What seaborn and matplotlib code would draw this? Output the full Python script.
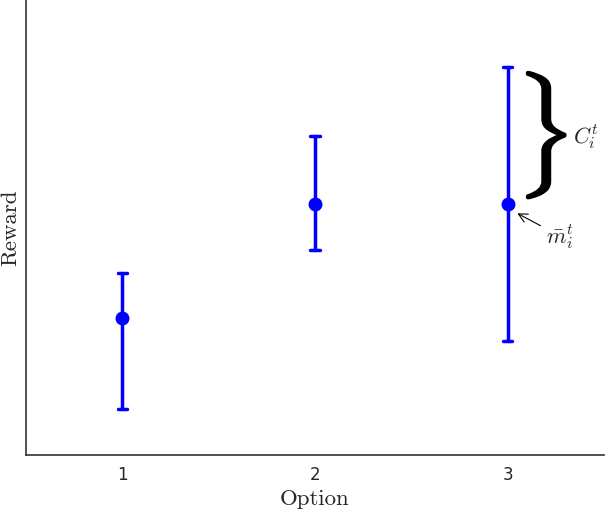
import numpy as np
import pandas as pd
import matplotlib
matplotlib.use('Agg')
import matplotlib.pyplot as plt
import seaborn as sns
from matplotlib.textpath import TextPath
from matplotlib.patches import PathPatch
from matplotlib.transforms import Affine2D

# Data (arbitrary reward units, axis spans 0..1)
options = [1, 2, 3]
means = [0.30, 0.55, 0.55]
lowers = [0.10, 0.45, 0.25]
uppers = [0.40, 0.70, 0.85]

# long format: median of (lower, mean, upper) gives the mean, min/max give the bar
df = pd.DataFrame({
    'Option': np.repeat(options, 3),
    'Reward': np.ravel(np.column_stack([lowers, means, uppers])),
})

sns.set_style('white')
plt.rcParams['mathtext.fontset'] = 'cm'

fig = plt.figure(figsize=(6.06, 5.10), dpi=100)
ax = fig.add_axes([26 / 606, 54 / 510, 578 / 606, 456 / 510])

sns.pointplot(data=df, x='Option', y='Reward', native_scale=True,
              estimator='median', errorbar=lambda v: (v.min(), v.max()),
              linestyle='none', color='#0000ff', marker='o', markersize=8,
              capsize=0.05, err_kws={'linewidth': 2.5}, ax=ax)

ax.set_xlim(0.5, 3.5)
ax.set_ylim(0, 1)
ax.set_xticks(options)
ax.set_xticklabels([str(o) for o in options], fontsize=12)
ax.set_yticks([])
ax.tick_params(axis='x', direction='in', length=5, width=0.6, color='#555555', pad=7)
for s in ['top', 'right']:
    ax.spines[s].set_visible(False)
for s in ['left', 'bottom']:
    ax.spines[s].set_color('#333333')
    ax.spines[s].set_linewidth(1.2)

ax.set_xlabel('Option', family='cmr10', fontsize=16.5, labelpad=4)
ax.set_ylabel('Reward', family='cmr10', fontsize=16.5, labelpad=4)

# big curly brace next to the third bar (mathtext brace, stretched)
tp = TextPath((0, 0), r'$\}$', size=1)
ext = tp.get_extents()
bx0, bx1 = 3.10, 3.30
by0, by1 = 0.563, 0.840
tr = (Affine2D().translate(-ext.x0, -ext.y0)
      .scale((bx1 - bx0) / ext.width, (by1 - by0) / ext.height)
      .translate(bx0, by0))
brace = PathPatch(tr.transform_path(tp), facecolor='black', edgecolor='black',
                  linewidth=1.5)
ax.add_patch(brace)

ax.text(3.34, 0.70, r'$C_i^t$', fontsize=16, va='center', ha='left')
ax.annotate(r'$\bar{m}_i^t$', xy=(3.05, 0.53), xytext=(3.2, 0.48),
            fontsize=16, va='center', ha='left',
            arrowprops=dict(arrowstyle='->', color='black', lw=0.8,
                            shrinkA=2, shrinkB=0))

plt.savefig('out.png', dpi=100)
